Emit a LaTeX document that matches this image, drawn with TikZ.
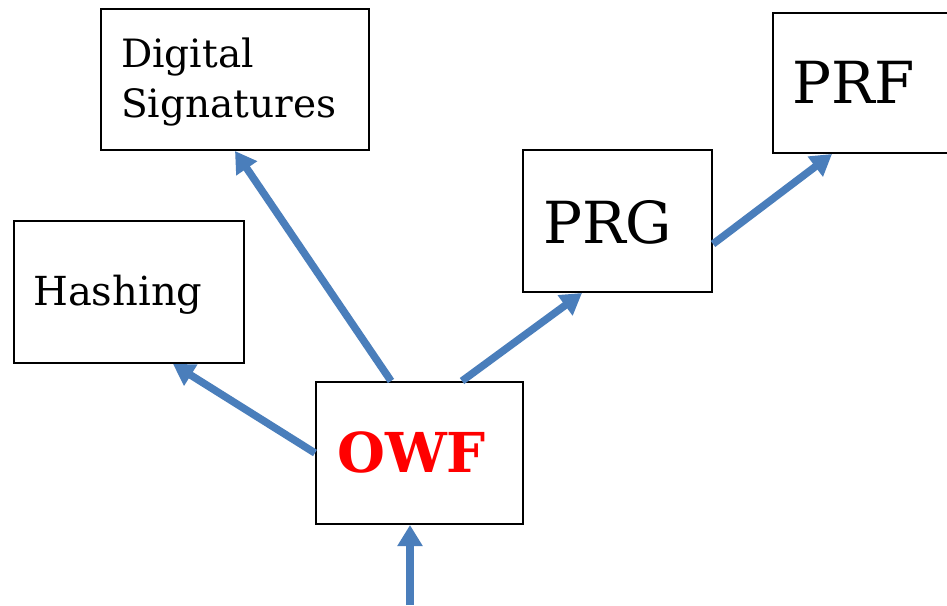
\documentclass[tikz,border=0pt]{standalone}
\usepackage{fontspec}
\setmainfont{DejaVu Serif}
\usetikzlibrary{arrows.meta}
\definecolor{arrowblue}{RGB}{74,126,187}
\tikzset{
  box/.style={draw=black, line width=2pt, fill=white, rectangle, inner sep=0pt, anchor=north west},
  lbl/.style={inner sep=0pt, anchor=base west, text=black},
  conn/.style={draw=arrowblue, line width=7.5pt, -{Triangle[width=24pt,length=21pt]}},
}
\begin{document}
\begin{tikzpicture}[x=1pt,y=-1pt]
\clip (0,0) rectangle (947,605);
\fill[white] (0,0) rectangle (947,605);
% boxes
\node[box, minimum width=268pt, minimum height=141pt] (ds) at (100,8) {};
\node[box, minimum width=230pt, minimum height=142pt] (hash) at (13,220) {};
\node[box, minimum width=207pt, minimum height=142pt] (owf) at (315,381) {};
\node[box, minimum width=189pt, minimum height=142pt] (prg) at (522,149) {};
\node[box, minimum width=220pt, minimum height=140pt] (prf) at (772,12) {};
% texts
\node[lbl, font=\fontsize{39}{50}\selectfont] (dsa) at (121,67) {Digital};
\node[lbl, font=\fontsize{39}{50}\selectfont] (dsb) at (121,117) {Signatures};
\node[lbl, font=\fontsize{40}{48}\selectfont] (hasht) at (33,305) {Hashing};
\node[lbl, font=\fontsize{58}{69}\selectfont] (prgt) at (543,243) {PRG};
\node[lbl, font=\fontsize{58}{69}\selectfont] (prft) at (792,103) {PRF};
\node[lbl, font=\bfseries\fontsize{55}{66}\selectfont, text={rgb,255:red,255;green,0;blue,0}] (owft) at (337,472) {OWF};
% connectors
\coordinate (in) at (410,605);
\draw[conn] (in) -- (in |- owf.south);
\draw[conn] (owf.west) -- ([xshift=160pt]hash.south west);
\draw[conn] ([xshift=76pt]owf.north west) -- ([xshift=135pt]ds.south west);
\draw[conn] ([xshift=147pt]owf.north west) -- ([xshift=60pt]prg.south west);
\draw[conn] ([yshift=-23pt]prg.east) -- ([xshift=60pt]prf.south west);
\end{tikzpicture}
\end{document}
